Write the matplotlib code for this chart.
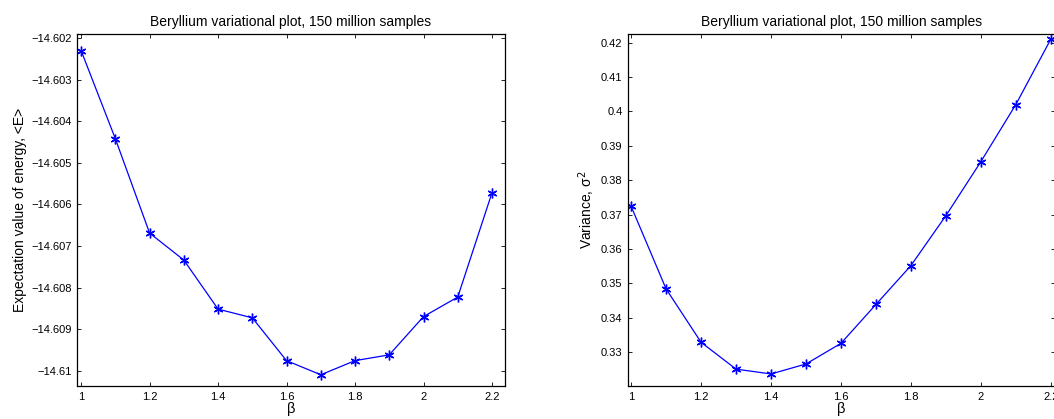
import matplotlib
matplotlib.use("Agg")
import matplotlib.pyplot as plt

plt.rcParams["font.family"] = ["Liberation Sans", "DejaVu Sans"]

beta = [1.0, 1.1, 1.2, 1.3, 1.4, 1.5, 1.6, 1.7, 1.8, 1.9, 2.0, 2.1, 2.2]
energy = [-14.60230, -14.60442, -14.60669, -14.60734, -14.60852, -14.60873,
          -14.60976, -14.61010, -14.60976, -14.60962, -14.60870, -14.60823,
          -14.60572]
variance = [0.3724, 0.3484, 0.3329, 0.3251, 0.3237, 0.3266, 0.3326,
            0.3439, 0.3552, 0.3697, 0.3854, 0.4020, 0.4210]

x_ticks = [1, 1.2, 1.4, 1.6, 1.8, 2, 2.2]
x_ticklabels = ["1", "1.2", "1.4", "1.6", "1.8", "2", "2.2"]
e_ticks = [-14.610, -14.609, -14.608, -14.607, -14.606, -14.605, -14.604,
           -14.603, -14.602]
e_ticklabels = ["\u221214.61", "\u221214.609", "\u221214.608", "\u221214.607",
                "\u221214.606", "\u221214.605", "\u221214.604", "\u221214.603",
                "\u221214.602"]
v_ticks = [0.33, 0.34, 0.35, 0.36, 0.37, 0.38, 0.39, 0.40, 0.41, 0.42]
v_ticklabels = ["0.33", "0.34", "0.35", "0.36", "0.37", "0.38", "0.39",
                "0.4", "0.41", "0.42"]

title = "Beryllium variational plot, 150 million samples"
W, H = 1054, 419

fig = plt.figure(figsize=(W / 100, H / 100), dpi=100)

# asterisk marker like matlab's '*'
MARK = (6, 2, 0)


def make_axes(left, right, top, bottom):
    return fig.add_axes([left / W, 1 - bottom / H, (right - left) / W, (bottom - top) / H])


def style(ax):
    ax.tick_params(direction="in", top=True, right=True, labelsize=8,
                   length=3, width=0.6, pad=4)
    for s in ax.spines.values():
        s.set_linewidth(0.9)
    ax.set_xticks(x_ticks)
    ax.set_xticklabels(x_ticklabels)
    ax.set_xlabel("\u03b2", fontsize=10.5, labelpad=0)
    ax.set_title(title, fontsize=10, pad=6)


ax1 = make_axes(77, 505, 34, 386)
ax1.plot(beta, energy, color="#0000ff", linewidth=0.9, marker=MARK,
         markersize=7, markeredgewidth=1.0)
ax1.set_xlim(0.988, 2.238)
ax1.set_ylim(-14.61037, -14.6019)
ax1.set_yticks(e_ticks)
ax1.set_yticklabels(e_ticklabels)
ax1.set_ylabel("Expectation value of energy, <E>", fontsize=10, labelpad=3)
style(ax1)

ax2 = make_axes(628, 1055, 34, 386)
ax2.plot(beta, variance, color="#0000ff", linewidth=0.9, marker=MARK,
         markersize=7, markeredgewidth=1.0)
ax2.set_xlim(0.991, 2.212)
ax2.set_ylim(0.3202, 0.4225)
ax2.set_yticks(v_ticks)
ax2.set_yticklabels(v_ticklabels)
ax2.set_ylabel("Variance, \u03c3$^2$", fontsize=10, labelpad=3)
style(ax2)

fig.savefig("out.png", dpi=100)
